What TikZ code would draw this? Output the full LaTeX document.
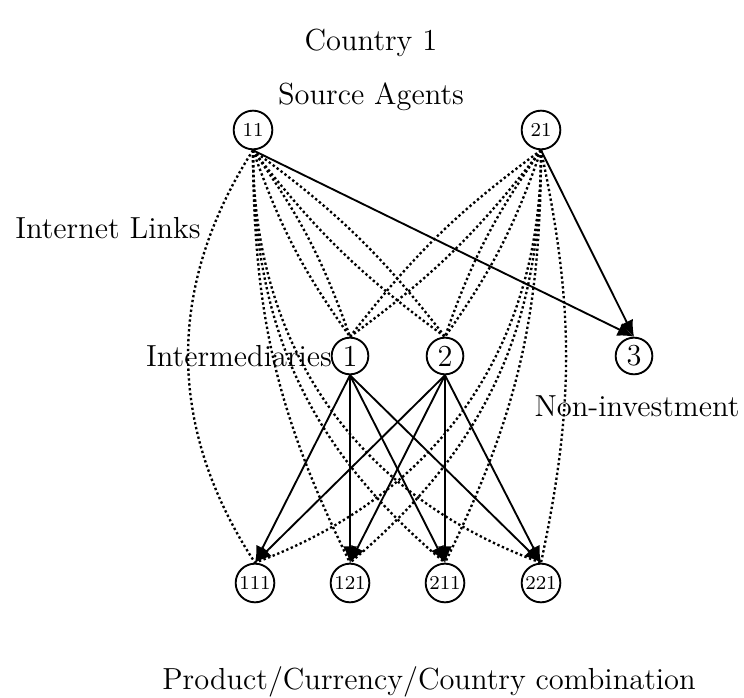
\documentclass[tikz,border=0pt]{standalone}
\usetikzlibrary{arrows.meta}
\begin{document}
\begin{tikzpicture}[x=0.015cm,y=-0.015cm,
  srcnode/.style={circle,draw,line width=0.8pt,minimum size=0.58cm,inner sep=0pt,font=\fontsize{8.4}{9}\selectfont},
  midnode/.style={circle,draw,line width=0.8pt,minimum size=0.55cm,inner sep=0pt,font=\fontsize{13}{15}\selectfont},
  lbl/.style={font=\fontsize{13}{15}\selectfont,inner sep=0pt},
  net/.style={line width=1pt,dash pattern=on 1pt off 1.1pt},
  phys/.style={line width=0.8pt,-{Latex[length=7pt,width=6pt]}}
]
\useasboundingbox (0,0) rectangle (744,698);

\node[lbl] (t1) at (371,43) {Country 1};
\node[lbl] (t2) at (371,97) {Source Agents};
\node[lbl] (t3) at (108,228) {Internet Links};
\node[lbl] (t4) at (239,356) {Intermediaries};
\node[lbl] (t5) at (637,406) {Non-investment};
\node[lbl] (t6) at (429,682) {Product/Currency/Country combination};

\node[srcnode] (s11) at (253,130) {11};
\node[srcnode] (s21) at (541,130) {21};
\node[midnode] (i1) at (350,356) {1};
\node[midnode] (i2) at (445,356) {2};
\node[midnode] (i3) at (634,356) {3};
\node[srcnode] (d111) at (255,583) {111};
\node[srcnode] (d121) at (350,583) {121};
\node[srcnode] (d211) at (445,583) {211};
\node[srcnode] (d221) at (541,583) {221};

% internet links to intermediaries
\foreach \s in {s11,s21}{
  \foreach \i in {i1,i2}{
    \draw[net] (\s.south) to[bend left=8] (\i.north);
    \draw[net] (\s.south) to[bend right=8] (\i.north);
  }
}
% internet links to demand markets
\draw[net] (s11.south) to[bend right=33] (d111.north);
\draw[net] (s11.south) to[bend right=13] (d121.north);
\draw[net] (s11.south) to[bend right=25] (d211.north);
\draw[net] (s11.south) to[bend right=35] (d221.north);
\draw[net] (s21.south) to[bend left=12] (d221.north);
\draw[net] (s21.south) to[bend left=13] (d211.north);
\draw[net] (s21.south) to[bend left=25] (d121.north);
\draw[net] (s21.south) to[bend left=35] (d111.north);

% physical links
\draw[phys] (s11.south) -- (i3.north);
\draw[phys] (s21.south) -- (i3.north);
\foreach \i in {i1,i2}{
  \foreach \d in {d111,d121,d211,d221}{
    \draw[phys] (\i.south) -- (\d.north);
  }
}
\end{tikzpicture}
\end{document}
